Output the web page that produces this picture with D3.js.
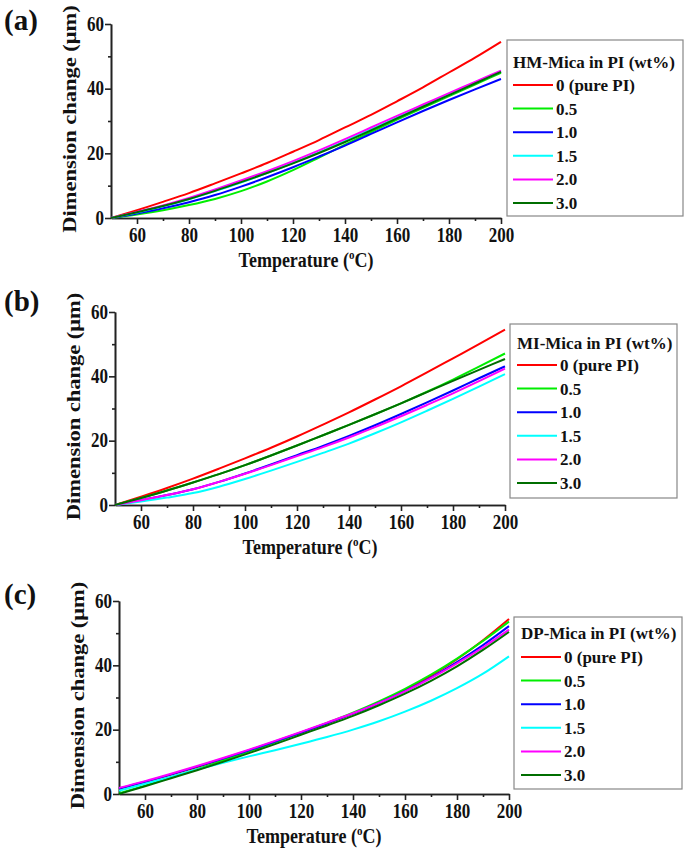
<!DOCTYPE html>
<html>
<head>
<meta charset="utf-8">
<script src="https://cdn.jsdelivr.net/npm/d3@7"></script>
<style>
  body { margin: 0; background: #fff; }
  svg text { font-family: "Liberation Serif", "Times New Roman", serif; font-weight: bold; fill: #111; }
</style>
</head>
<body>
<svg id="chart" width="685" height="851"></svg>
<script>
var temps = [50, 60, 70, 80, 90, 100, 110, 120, 130, 140, 150, 160, 170, 180, 190, 200]
var seriesNames = ['0 (pure PI)', '0.5', '1.0', '1.5', '2.0', '3.0']
var seriesColors = ['#ff0000', '#00ee00', '#0000ff', '#00ffff', '#ff00ff', '#006e00']
var xTicks = [60, 80, 100, 120, 140, 160, 180, 200]
var xMinor = [70, 90, 110, 130, 150, 170, 190]
var yTicks = [0, 20, 40, 60]
var yMinor = [10, 30, 50]

// HM-Mica, one row per loading (same order as seriesNames)
var hmMica = [
  [0, 2.4, 5.0, 7.7, 10.7, 13.8, 17.0, 20.5, 24.1, 28.0, 31.9, 36.1, 40.4, 45.0, 49.6, 54.5],
  [0, 1.1, 2.4, 4.0, 5.9, 8.3, 11.3, 14.8, 18.7, 22.7, 26.6, 30.4, 34.1, 37.7, 41.3, 44.9],
  [0, 1.4, 3.0, 4.9, 7.1, 9.7, 12.6, 15.7, 19.0, 22.4, 26.0, 29.6, 33.1, 36.5, 39.8, 43.0],
  [0, 1.7, 3.6, 5.8, 8.3, 11.0, 13.9, 17.0, 20.3, 23.8, 27.4, 31.0, 34.6, 38.1, 41.7, 45.3],
  [0, 1.9, 3.9, 6.2, 8.8, 11.6, 14.5, 17.6, 20.9, 24.4, 28.0, 31.6, 35.1, 38.6, 42.1, 45.6],
  [0, 1.8, 3.7, 5.9, 8.4, 11.1, 13.9, 16.9, 20.1, 23.5, 27.1, 30.8, 34.4, 38.0, 41.6, 45.2]
]
var miMica = [
  [0, 2.6, 5.3, 8.2, 11.3, 14.5, 17.8, 21.3, 25.0, 28.8, 32.8, 36.9, 41.2, 45.6, 50.0, 54.5],
  [0, 2.2, 4.5, 7.0, 9.6, 12.4, 15.4, 18.5, 21.7, 24.9, 28.2, 31.6, 35.2, 39.0, 43.0, 47.1],
  [0, 1.5, 3.1, 4.9, 7.2, 9.8, 12.6, 15.5, 18.4, 21.5, 24.8, 28.3, 31.9, 35.6, 39.4, 43.1],
  [0, 1.1, 2.3, 3.7, 5.7, 8.1, 10.7, 13.4, 16.2, 19.1, 22.3, 25.7, 29.3, 33.0, 36.8, 40.7],
  [0, 1.5, 3.1, 4.9, 7.2, 9.7, 12.4, 15.2, 18.0, 21.0, 24.2, 27.6, 31.1, 34.7, 38.5, 42.4],
  [0, 2.2, 4.5, 7.0, 9.6, 12.4, 15.4, 18.5, 21.7, 24.9, 28.2, 31.6, 35.1, 38.6, 42.0, 45.4]
]
var dpMica = [
  [1.6, 3.7, 6.0, 8.4, 10.9, 13.5, 16.2, 19.0, 21.9, 25.0, 28.4, 32.3, 36.8, 41.9, 47.8, 54.4],
  [0.2, 2.6, 5.1, 7.7, 10.4, 13.2, 16.1, 19.1, 22.1, 25.3, 28.8, 32.7, 37.1, 42.1, 47.6, 53.6],
  [1.7, 3.8, 6.1, 8.5, 11.0, 13.6, 16.3, 19.1, 22.0, 25.0, 28.3, 32.0, 36.2, 41.0, 46.3, 52.2],
  [1.0, 3.2, 5.4, 7.6, 9.7, 11.7, 13.6, 15.6, 17.7, 20.0, 22.6, 25.6, 29.0, 32.9, 37.4, 42.8],
  [1.9, 4.0, 6.3, 8.7, 11.2, 13.8, 16.5, 19.3, 22.2, 25.1, 28.3, 31.9, 36.0, 40.6, 45.6, 51.1],
  [0, 2.4, 4.9, 7.4, 10.0, 12.7, 15.5, 18.4, 21.3, 24.3, 27.6, 31.2, 35.2, 39.7, 44.8, 50.4]
]

var panels = [
  { tag: '(a)', tagY: 30, title: 'HM-Mica in PI (wt%)', data: hmMica,
    left: 111, top: 24, bottom: 218,
    lg: { x: 507, y: 40, w: 176, h: 176, lineX: 513, textX: 556, titleY: 62, rowY: 85 } },
  { tag: '(b)', tagY: 311, title: 'MI-Mica in PI (wt%)', data: miMica,
    left: 115, top: 312, bottom: 505,
    lg: { x: 510, y: 324, w: 167, h: 174, lineX: 517, textX: 560, titleY: 343, rowY: 365 } },
  { tag: '(c)', tagY: 604, title: 'DP-Mica in PI (wt%)', data: dpMica,
    left: 119, top: 601, bottom: 794,
    lg: { x: 514, y: 617, w: 168, h: 172, lineX: 521, textX: 564, titleY: 633, rowY: 657 } }
]

var svg = d3.select('#chart')
var plotW = 390
var stretch = 1.25

panels.forEach(function(p) {
  var x = d3.scaleLinear().domain([50, 200]).range([p.left, p.left + plotW])
  var y = d3.scaleLinear().domain([0, 60]).range([p.bottom, p.top])
  var g = svg.append('g')

  // minor ticks first, then major axes on top
  g.append('g')
    .attr('transform', 'translate(0,' + p.bottom + ')')
    .call(d3.axisBottom(x).tickValues(xMinor).tickSize(3).tickSizeOuter(0).tickFormat(''))
  g.append('g')
    .attr('transform', 'translate(' + p.left + ',0)')
    .call(d3.axisLeft(y).tickValues(yMinor).tickSize(3).tickSizeOuter(0).tickFormat(''))

  var xa = g.append('g')
    .attr('transform', 'translate(0,' + p.bottom + ')')
    .call(d3.axisBottom(x).tickValues(xTicks).tickSize(6).tickSizeOuter(0))
  xa.selectAll('text')
    .attr('dy', null)
    .attr('y', 0)
    .attr('transform', 'translate(0,24) scale(1,' + stretch + ')')

  var ya = g.append('g')
    .attr('transform', 'translate(' + p.left + ',0)')
    .call(d3.axisLeft(y).tickValues(yTicks).tickSize(6).tickSizeOuter(0))
  ya.selectAll('text')
    .attr('dy', null)
    .attr('x', 0)
    .attr('transform', 'translate(-7,6) scale(1,' + stretch + ')')

  g.selectAll('.tick text').style('font-size', '17px').style('font-family', '"Liberation Serif", serif').style('font-weight', 'bold').attr('fill', '#111')
  g.selectAll('.domain, .tick line').attr('stroke', '#222').attr('stroke-width', 1.6)

  // axis titles
  var xt = g.append('text')
    .attr('text-anchor', 'middle')
    .attr('transform', 'translate(' + (p.left + plotW / 2) + ',' + (p.bottom + 49) + ') scale(1,1.15)')
    .style('font-size', '18px')
  xt.append('tspan').text('Temperature (')
  xt.append('tspan').attr('dy', -7).style('font-size', '11px').text('o')
  xt.append('tspan').attr('dy', 7).text('C)')

  g.append('text')
    .attr('text-anchor', 'middle')
    .attr('transform', 'translate(' + (p.left - 35) + ',' + ((p.top + p.bottom) / 2 - 2) + ') rotate(-90) scale(' + stretch + ',1)')
    .style('font-size', '18px')
    .text('Dimension change (\u03bcm)')

  g.append('text')
    .attr('x', 4)
    .attr('y', p.tagY)
    .style('font-size', '29px')
    .text(p.tag)

  // curves
  var line = d3.line()
    .x(function(d, i) { return x(temps[i]) })
    .y(function(d) { return y(d) })
    .curve(d3.curveMonotoneX)

  g.selectAll('path.curve')
    .data(p.data)
    .enter()
    .append('path')
    .attr('class', 'curve')
    .attr('d', line)
    .attr('fill', 'none')
    .attr('stroke', function(d, i) { return seriesColors[i] })
    .attr('stroke-width', 2)

  // legend
  var lg = p.lg
  g.append('rect')
    .attr('x', lg.x).attr('y', lg.y).attr('width', lg.w).attr('height', lg.h)
    .attr('fill', '#fff').attr('stroke', '#888').attr('stroke-width', 1.2)
  g.append('text')
    .attr('x', lg.lineX).attr('y', lg.titleY + 6)
    .style('font-size', '17px')
    .text(p.title)
  seriesNames.forEach(function(name, i) {
    var ry = lg.rowY + i * 23.6
    g.append('line')
      .attr('x1', lg.lineX).attr('x2', lg.lineX + 40)
      .attr('y1', ry).attr('y2', ry)
      .attr('stroke', seriesColors[i]).attr('stroke-width', 2)
    g.append('text')
      .attr('x', lg.textX).attr('y', ry + 6)
      .style('font-size', '17px')
      .text(name)
  })
})
</script>
</body>
</html>
